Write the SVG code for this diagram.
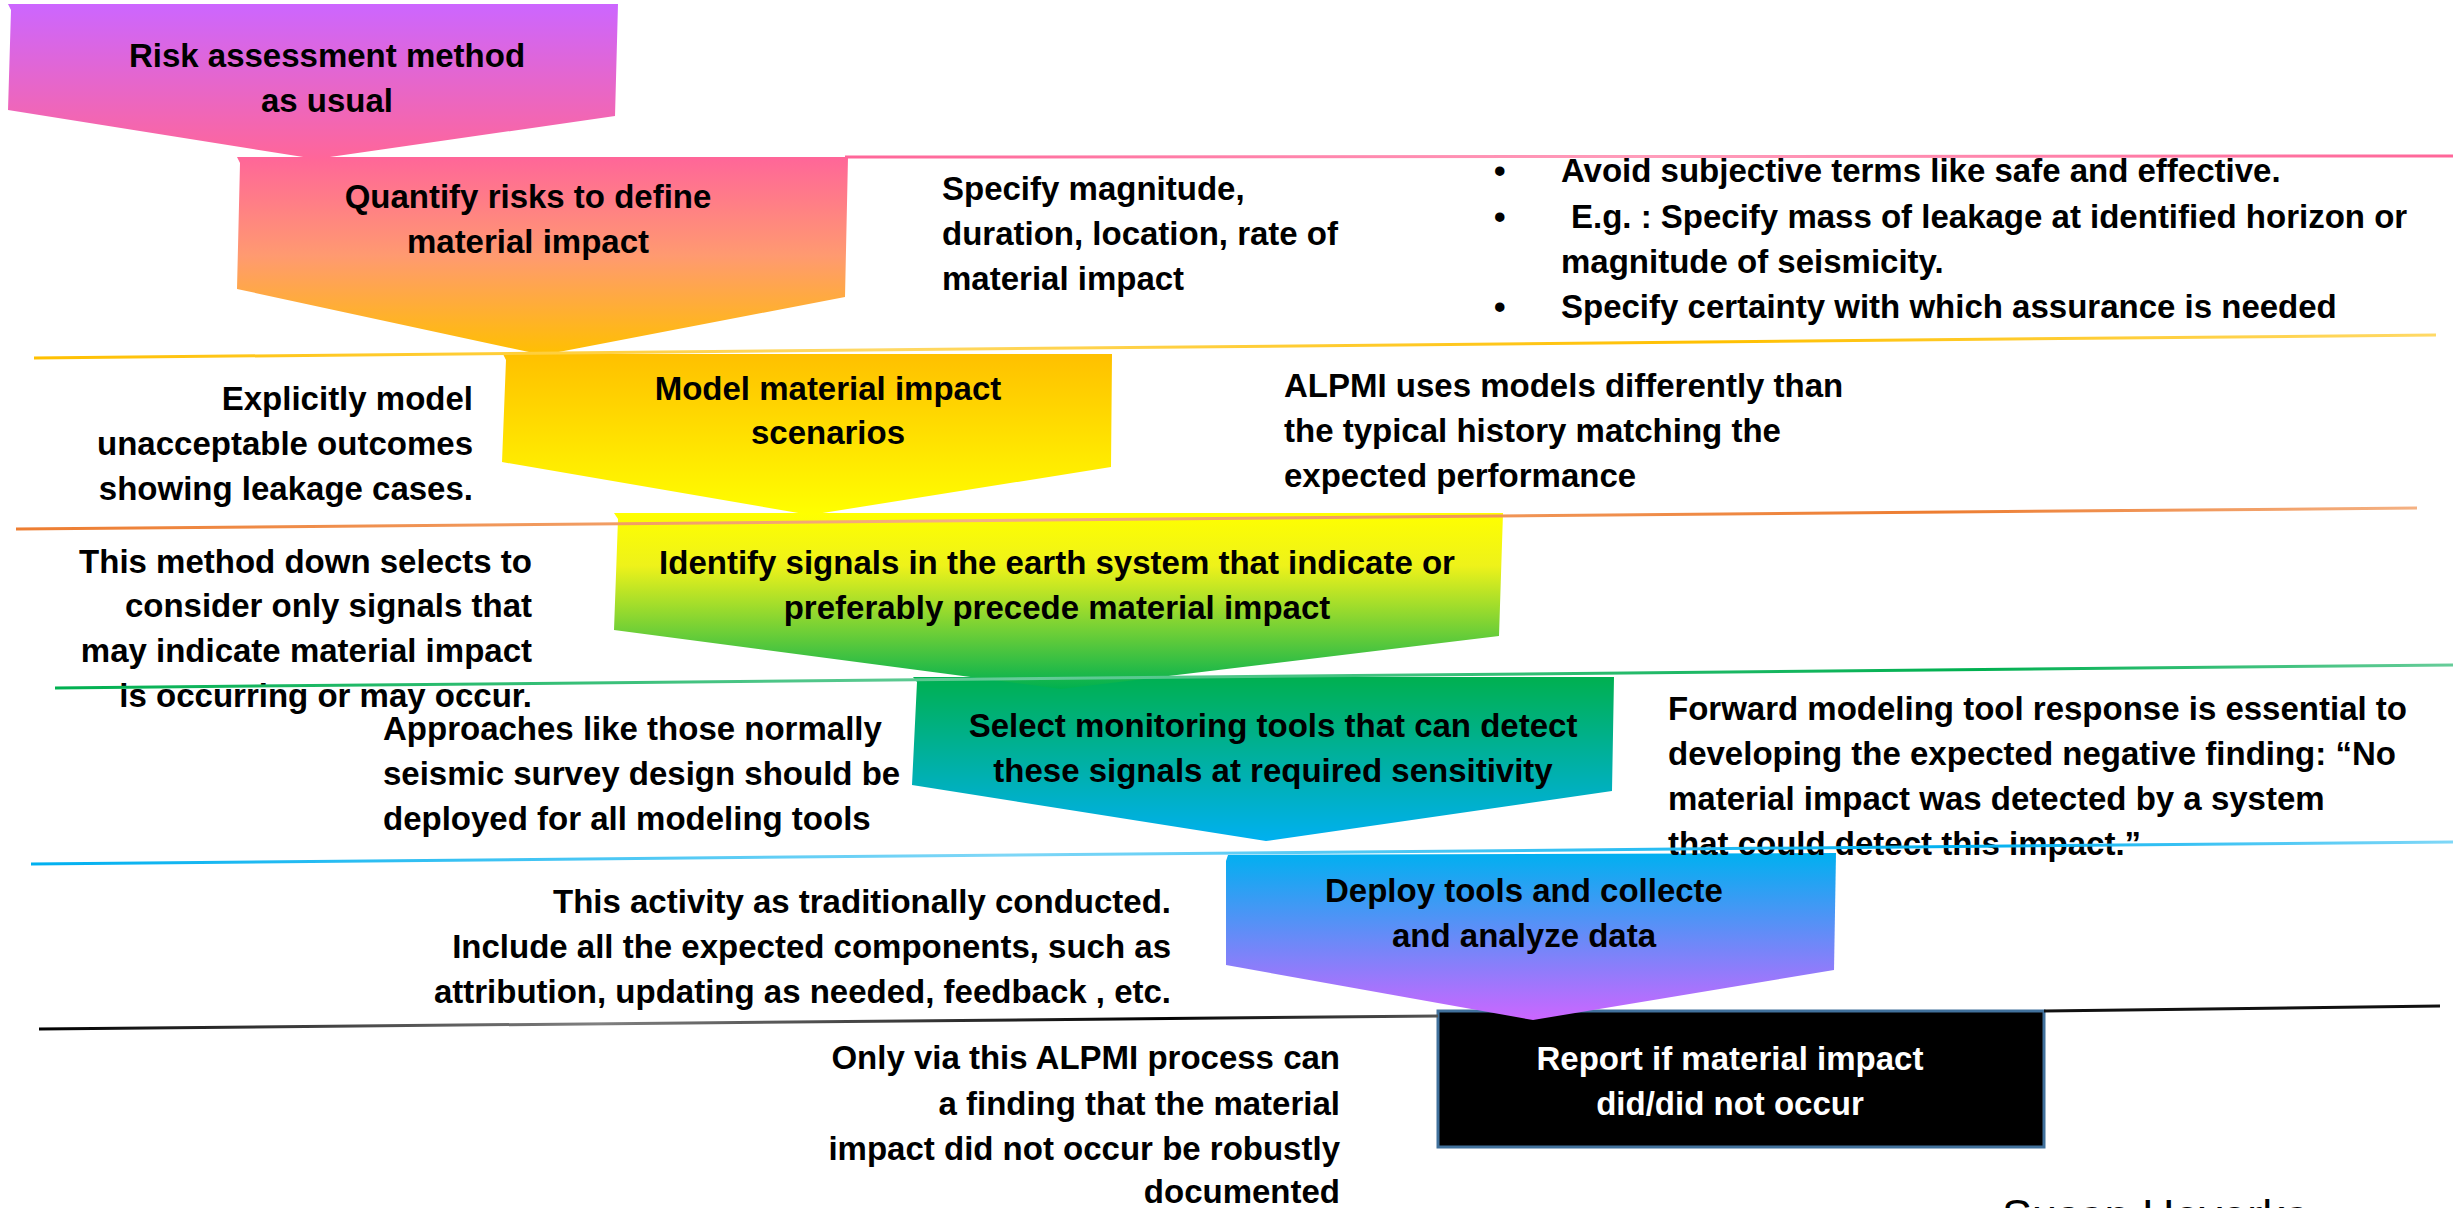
<svg xmlns="http://www.w3.org/2000/svg" width="2453" height="1208" viewBox="0 0 2453 1208">
  <defs>
    <linearGradient id="gP1" x1="0" y1="0" x2="0" y2="1">
      <stop offset="0" stop-color="#cc66ff"/>
      <stop offset="1" stop-color="#ff6699"/>
    </linearGradient>
    <linearGradient id="gP2" x1="0" y1="0" x2="0" y2="1">
      <stop offset="0" stop-color="#ff6699"/>
      <stop offset="0.5" stop-color="#ff9a70"/>
      <stop offset="1" stop-color="#ffc000"/>
    </linearGradient>
    <linearGradient id="gP3" x1="0" y1="0" x2="0" y2="1">
      <stop offset="0" stop-color="#ffc000"/>
      <stop offset="1" stop-color="#ffff00"/>
    </linearGradient>
    <linearGradient id="gP4" x1="0" y1="0" x2="0" y2="1">
      <stop offset="0" stop-color="#ffff00"/>
      <stop offset="0.3" stop-color="#eef21a"/>
      <stop offset="1" stop-color="#00b050"/>
    </linearGradient>
    <linearGradient id="gP5" x1="0" y1="0" x2="0" y2="1">
      <stop offset="0" stop-color="#00b050"/>
      <stop offset="1" stop-color="#00b0f0"/>
    </linearGradient>
    <linearGradient id="gP6" x1="0" y1="0" x2="0" y2="1">
      <stop offset="0" stop-color="#00b0f0"/>
      <stop offset="1" stop-color="#cc66ff"/>
    </linearGradient>
    <!-- separator strokes: solid colour fading lighter along the run -->
    <linearGradient id="sPink" x1="0" y1="0" x2="1" y2="0">
      <stop offset="0" stop-color="#ff6699"/>
      <stop offset="0.5" stop-color="#ff9dbb"/>
      <stop offset="1" stop-color="#ff6699"/>
    </linearGradient>
    <linearGradient id="sGold" x1="0" y1="0" x2="1" y2="0">
      <stop offset="0" stop-color="#ffc000"/>
      <stop offset="0.35" stop-color="#ffd966"/>
      <stop offset="0.7" stop-color="#ffc000"/>
      <stop offset="1" stop-color="#ffd966"/>
    </linearGradient>
    <linearGradient id="sOrange" x1="0" y1="0" x2="1" y2="0">
      <stop offset="0" stop-color="#ed7d31"/>
      <stop offset="0.4" stop-color="#f4b183"/>
      <stop offset="0.8" stop-color="#ed7d31"/>
      <stop offset="1" stop-color="#f4b183"/>
    </linearGradient>
    <linearGradient id="sGreen" x1="0" y1="0" x2="1" y2="0">
      <stop offset="0" stop-color="#00b050"/>
      <stop offset="0.4" stop-color="#66cc99"/>
      <stop offset="0.8" stop-color="#00b050"/>
      <stop offset="1" stop-color="#66cc99"/>
    </linearGradient>
    <linearGradient id="sBlue" x1="0" y1="0" x2="1" y2="0">
      <stop offset="0" stop-color="#00b0f0"/>
      <stop offset="0.4" stop-color="#7fd7f7"/>
      <stop offset="0.8" stop-color="#00b0f0"/>
      <stop offset="1" stop-color="#7fd7f7"/>
    </linearGradient>
    <linearGradient id="sBlack" x1="0" y1="0" x2="1" y2="0">
      <stop offset="0" stop-color="#000000"/>
      <stop offset="0.4" stop-color="#808080"/>
      <stop offset="0.8" stop-color="#000000"/>
      <stop offset="1" stop-color="#555555"/>
    </linearGradient>
  </defs>
  <style>
    text { font-family: "Liberation Sans", Arial, sans-serif; font-weight: bold; font-size: 33px; fill: #000; }
    .c { text-anchor: middle; }
    .r { text-anchor: end; }
    .w { fill: #ffffff; }
    .sig { font-weight: normal; font-size: 45px; }
    .sep { stroke-width: 3; fill: none; }
  </style>

  <rect x="0" y="0" width="2453" height="1208" fill="#ffffff"/>

  <!-- step 7: final report box -->
  <g id="step7">
    <rect x="1438" y="1011" width="606" height="136" fill="#000000" stroke="#41719c" stroke-width="3"/>
    <text class="c w" x="1730" y="1070">Report if material impact</text>
    <text class="c w" x="1730" y="1115">did/did not occur</text>
  </g>

  <!-- step 6 -->
  <g id="step6">
    <polygon points="1228,855 1836,853 1834,970 1533,1020 1226,965 1226,861" fill="url(#gP6)"/>
    <text class="c" x="1524" y="902">Deploy tools and collecte</text>
    <text class="c" x="1524" y="947">and analyze data</text>
  </g>

  <!-- step 5 -->
  <g id="step5">
    <polygon points="913,677 1614,677 1612,791 1266,841 912,785 917,682" fill="url(#gP5)"/>
    <text class="c" x="1273" y="737">Select monitoring tools that can detect</text>
    <text class="c" x="1273" y="782">these signals at required sensitivity</text>
  </g>

  <!-- step 4 -->
  <g id="step4">
    <polygon points="614,513 1503,513 1499,636 1061,689 614,630 618,519" fill="url(#gP4)"/>
    <text class="c" x="1057" y="574">Identify signals in the earth system that indicate or</text>
    <text class="c" x="1057" y="619">preferably precede material impact</text>
  </g>

  <!-- step 3 -->
  <g id="step3">
    <polygon points="503,354 1112,354 1111,467 810,515 502,462 506,360" fill="url(#gP3)"/>
    <text class="c" x="828" y="400">Model material impact</text>
    <text class="c" x="828" y="444">scenarios</text>
  </g>

  <!-- step 2 -->
  <g id="step2">
    <polygon points="237,157 848,157 845,297 543,355 237,289 240,163" fill="url(#gP2)"/>
    <text class="c" x="528" y="208">Quantify risks to define</text>
    <text class="c" x="528" y="253">material impact</text>
  </g>

  <!-- step 1 -->
  <g id="step1">
    <polygon points="8,4 618,4 615,116 316,159 8,110 11,10" fill="url(#gP1)"/>
    <text class="c" x="327" y="67">Risk assessment method</text>
    <text class="c" x="327" y="112">as usual</text>
  </g>

  <!-- side notes -->
  <g id="note-quantify">
    <text x="942" y="200">Specify magnitude,</text>
    <text x="942" y="245">duration, location, rate of</text>
    <text x="942" y="290">material impact</text>
  </g>
  <g id="note-bullets">
    <text x="1494" y="182">•</text>
    <text x="1561" y="182">Avoid subjective terms like safe and effective.</text>
    <text x="1494" y="228">•</text>
    <text x="1571" y="228">E.g. : Specify mass of leakage at identified horizon or</text>
    <text x="1561" y="273">magnitude of seismicity.</text>
    <text x="1494" y="318">•</text>
    <text x="1561" y="318">Specify certainty with which assurance is needed</text>
  </g>
  <g id="note-model-left">
    <text class="r" x="473" y="410">Explicitly model</text>
    <text class="r" x="473" y="455">unacceptable outcomes</text>
    <text class="r" x="473" y="500">showing leakage cases.</text>
  </g>
  <g id="note-model-right">
    <text x="1284" y="397">ALPMI uses models differently than</text>
    <text x="1284" y="442">the typical history matching the</text>
    <text x="1284" y="487">expected performance</text>
  </g>
  <g id="note-signals">
    <text class="r" x="532" y="573">This method down selects to</text>
    <text class="r" x="532" y="617">consider only signals that</text>
    <text class="r" x="532" y="662">may indicate material impact</text>
    <text class="r" x="532" y="707">is occurring or may occur.</text>
  </g>
  <g id="note-tools-left">
    <text x="383" y="740">Approaches like those normally</text>
    <text x="383" y="785">seismic survey design should be</text>
    <text x="383" y="830">deployed for all modeling tools</text>
  </g>
  <g id="note-tools-right">
    <text x="1668" y="720">Forward modeling tool response is essential to</text>
    <text x="1668" y="765">developing the expected negative finding: “No</text>
    <text x="1668" y="810">material impact was detected by a system</text>
    <text x="1668" y="855">that could detect this impact.”</text>
  </g>
  <g id="note-deploy">
    <text class="r" x="1171" y="913">This activity as traditionally conducted.</text>
    <text class="r" x="1171" y="958">Include all the expected components, such as</text>
    <text class="r" x="1171" y="1003">attribution, updating as needed, feedback , etc.</text>
  </g>
  <g id="note-report">
    <text class="r" x="1340" y="1069">Only via this ALPMI process can</text>
    <text class="r" x="1340" y="1115">a finding that the material</text>
    <text class="r" x="1340" y="1160">impact did not occur be robustly</text>
    <text class="r" x="1340" y="1203">documented</text>
  </g>

  <!-- stage separator lines -->
  <g id="separators">
    <line class="sep" x1="845" y1="157" x2="2453" y2="156" stroke="url(#sPink)"/>
    <line class="sep" x1="34" y1="358" x2="2436" y2="335" stroke="url(#sGold)"/>
    <line class="sep" x1="16" y1="529" x2="2417" y2="508" stroke="url(#sOrange)"/>
    <line class="sep" x1="55" y1="688" x2="2453" y2="665" stroke="url(#sGreen)"/>
    <line class="sep" x1="31" y1="864" x2="2453" y2="842" stroke="url(#sBlue)"/>
    <line class="sep" x1="39" y1="1029" x2="1438" y2="1016" stroke="url(#sBlack)"/>
    <line class="sep" x1="2044" y1="1011" x2="2440" y2="1006" stroke="#111111"/>
  </g>

  <text class="sig" x="2002" y="1231">Susan Hovorka</text>
</svg>
